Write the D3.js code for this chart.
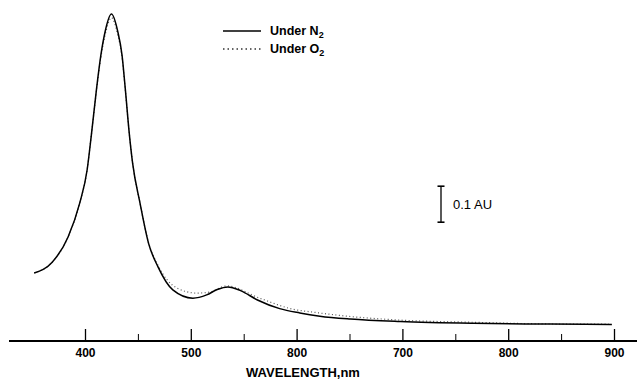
<!DOCTYPE html>
<html>
<head>
<meta charset="utf-8">
<script src="https://cdn.jsdelivr.net/npm/d3@7"></script>
<style>
  body { margin: 0; background: #fff; }
  svg { font-family: "Liberation Sans", Arial, sans-serif; }
</style>
</head>
<body>
<div id="chart"></div>
<script>
// spectrum (absorbance in AU above the axis line)
var wlN2 = [352, 369, 384, 395, 402, 406, 411, 415, 419, 425, 431, 435, 438, 442, 445, 452, 460, 469, 483, 502, 515, 525, 535, 547, 563, 584, 603, 622, 651, 698, 767, 840, 898];
var auN2 = [0.189, 0.219, 0.289, 0.383, 0.475, 0.572, 0.703, 0.794, 0.859, 0.908, 0.859, 0.794, 0.703, 0.572, 0.494, 0.383, 0.272, 0.206, 0.142, 0.119, 0.128, 0.143, 0.150, 0.140, 0.114, 0.090, 0.078, 0.069, 0.061, 0.054, 0.049, 0.047, 0.046];

var wlO2 = [352, 369, 384, 395, 402, 406, 411, 415, 419, 425, 431, 435, 438, 442, 445, 452, 460, 469, 487, 506, 518, 534, 565, 597, 616, 651, 698, 767, 856, 895];
var auO2 = [0.189, 0.219, 0.289, 0.383, 0.475, 0.572, 0.700, 0.788, 0.850, 0.898, 0.850, 0.788, 0.700, 0.572, 0.494, 0.383, 0.274, 0.210, 0.147, 0.133, 0.136, 0.153, 0.119, 0.088, 0.080, 0.068, 0.058, 0.052, 0.047, 0.047];

var majorTicks = [400, 500, 600, 700, 800, 900];
var tickLabels = ["400", "500", "800", "700", "800", "900"];
var minorTicks = [450, 550, 650, 750, 850];
var scaleBar = [0.33, 0.43]; // 0.1 AU

var width = 637, height = 383;

var x = d3.scaleLinear().domain([400, 900]).range([85, 614]);
var y = d3.scaleLinear().domain([0, 0.9]).range([341, 17]);

var svg = d3.select("#chart").append("svg")
    .attr("width", width)
    .attr("height", height);

// axis line across the whole width
svg.append("line")
    .attr("x1", 9).attr("x2", 637)
    .attr("y1", y(0)).attr("y2", y(0))
    .attr("stroke", "#000")
    .attr("stroke-width", 2);

var xAxis = svg.append("g")
    .attr("transform", "translate(0," + y(0) + ")")
    .call(d3.axisBottom(x)
      .tickValues(majorTicks)
      .tickSizeInner(-12)
      .tickSizeOuter(0)
      .tickPadding(7)
      .tickFormat(function(d, i) { return tickLabels[i]; }));
xAxis.select(".domain").remove();
xAxis.selectAll(".tick line").attr("stroke-width", 1.3);
xAxis.selectAll("text")
    .attr("font-size", 12)
    .attr("font-weight", "bold")
    .attr("font-family", "Liberation Sans, Arial, sans-serif");

var minorAxis = svg.append("g")
    .attr("transform", "translate(0," + y(0) + ")")
    .call(d3.axisBottom(x).tickValues(minorTicks).tickSize(-7).tickFormat(""));
minorAxis.select(".domain").remove();

svg.append("text")
    .attr("x", 303)
    .attr("y", 377)
    .attr("text-anchor", "middle")
    .attr("font-size", 13)
    .attr("font-weight", "bold")
    .text("WAVELENGTH,nm");

var line = d3.line()
    .x(function(d) { return x(d[0]); })
    .y(function(d) { return y(d[1]); })
    .curve(d3.curveMonotoneX);

svg.append("path")
    .datum(d3.zip(wlO2, auO2))
    .attr("fill", "none")
    .attr("stroke", "#555")
    .attr("stroke-width", 1.2)
    .attr("stroke-dasharray", "1,2.5")
    .attr("d", line);

svg.append("path")
    .datum(d3.zip(wlN2, auN2))
    .attr("fill", "none")
    .attr("stroke", "#000")
    .attr("stroke-width", 1.5)
    .attr("d", line);

// legend
var legend = svg.append("g");
var legendItems = [
  {label: "Under N", sub: "2", dash: null, w: 1.6, color: "#000"},
  {label: "Under O", sub: "2", dash: "1.5,3", w: 1.3, color: "#333"}
];
legendItems.forEach(function(d, i) {
  var ly = 31 + i * 18;
  legend.append("line")
      .attr("x1", 223).attr("x2", 261)
      .attr("y1", ly).attr("y2", ly)
      .attr("stroke", d.color)
      .attr("stroke-width", d.w)
      .attr("stroke-dasharray", d.dash);
  var t = legend.append("text")
      .attr("x", 270)
      .attr("y", ly + 4)
      .attr("font-size", 12.5)
      .attr("font-weight", "bold");
  t.append("tspan").text(d.label);
  t.append("tspan").attr("dy", 3).attr("font-size", 9).text(d.sub);
});

// 0.1 AU scale bar
var bx = 441;
var bar = svg.append("g");
bar.append("line")
    .attr("x1", bx).attr("x2", bx)
    .attr("y1", y(scaleBar[0])).attr("y2", y(scaleBar[1]))
    .attr("stroke", "#000").attr("stroke-width", 1.3);
scaleBar.forEach(function(v) {
  bar.append("line")
      .attr("x1", bx - 3.5).attr("x2", bx + 3.5)
      .attr("y1", y(v)).attr("y2", y(v))
      .attr("stroke", "#000").attr("stroke-width", 1.6);
});
bar.append("text")
    .attr("x", 453)
    .attr("y", (y(scaleBar[0]) + y(scaleBar[1])) / 2 + 5)
    .attr("font-size", 13)
    .text("0.1 AU");
</script>
</body>
</html>
